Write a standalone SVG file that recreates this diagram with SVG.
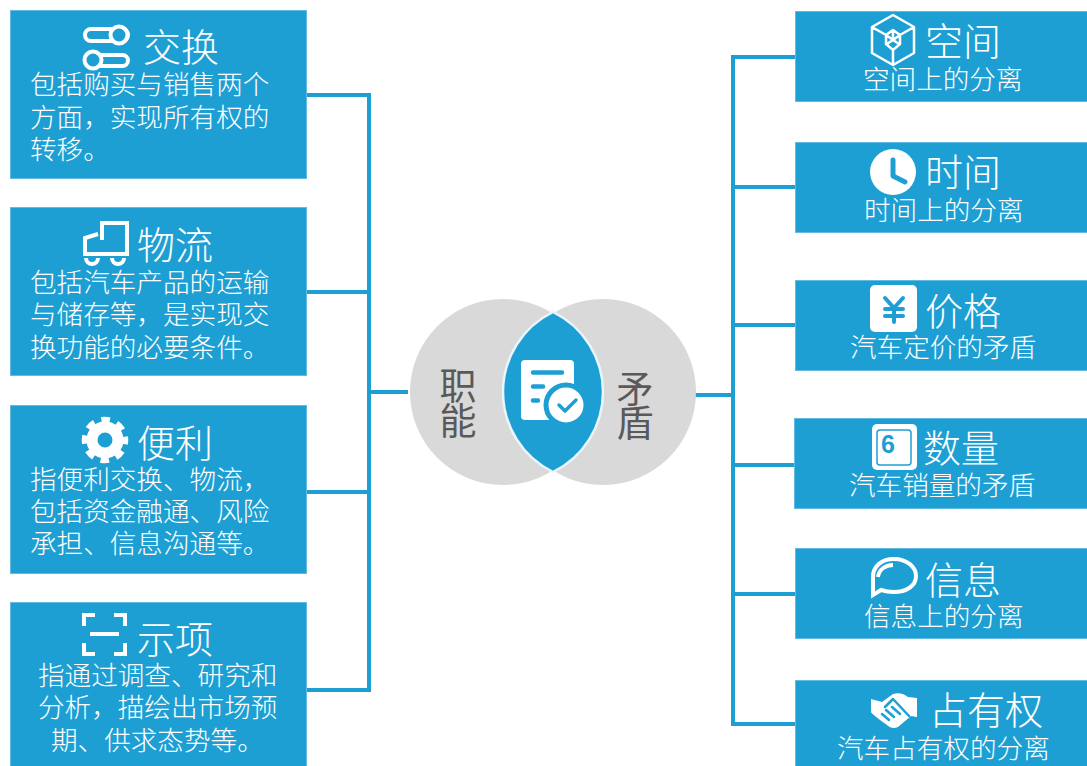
<svg xmlns="http://www.w3.org/2000/svg" width="1087" height="766" viewBox="0 0 1087 766">
<style>
text{font-family:"Noto Sans CJK SC","Liberation Sans",sans-serif;font-weight:300;fill:#fff}
.box{fill:#1e9fd4;stroke:#62bbe2;stroke-width:1}
.t{font-size:38px}
.b{font-size:26.6px}
.c{font-size:37px;fill:#595959;text-anchor:middle;font-weight:400}
.ln{fill:none;stroke:#1e9fd4;stroke-width:4}
.o{fill:none;stroke:#fff;stroke-width:4}
.o2{fill:none;stroke:#fff;stroke-width:2.5;stroke-linejoin:round}
.w{fill:#fff}
.bl{fill:none;stroke:#1e9fd4;stroke-linecap:round;stroke-linejoin:round}
</style>
<g id="connectors">
<path class="ln" d="M307 95H369V690M307 292H369M307 492H369M307 690H371M369 392H408"/>
<path class="ln" d="M795 57H733V726M795 187H733M795 325H733M795 465H733M795 594H733M795 724H731M695 395H733"/>
</g>
<g id="center">
<circle cx="503" cy="392" r="93" fill="#d9d9d9"/>
<circle cx="603" cy="392" r="93" fill="#d9d9d9"/>
<path d="M553 312A89 89 0 0 1 553 472A89 89 0 0 1 553 312Z" fill="#1e9fd4" stroke="#eaf6fb" stroke-width="2.5"/>
<rect x="521" y="360" width="53" height="60" rx="4" class="w"/>
<circle cx="566" cy="405" r="20" fill="#fff" stroke="#1e9fd4" stroke-width="5"/>
<path class="bl" stroke-width="4.5" d="M533 372.500H562M533 386.500H543M533 400.500H538"/>
<path class="bl" stroke-width="3.500" d="M559 405L565 411L576 400"/>
<text class="c" x="458" y="400">职</text>
<text class="c" x="458" y="435">能</text>
<text class="c" x="635" y="403">矛</text>
<text class="c" x="635" y="437">盾</text>
</g>
<g id="n-exchange">
<rect class="box" x="10.500" y="10.500" width="296" height="168"/>
<rect class="o" x="85" y="29" width="43" height="12" rx="6"/>
<circle cx="119" cy="35" r="8.500" fill="#1e9fd4" stroke="#fff" stroke-width="4"/>
<rect class="o" x="85" y="55" width="43" height="11" rx="5.500"/>
<circle cx="93" cy="60" r="8.500" fill="#1e9fd4" stroke="#fff" stroke-width="4"/>
<text class="t" x="143" y="61">交换</text>
<text class="b" x="30" y="94">包括购买与销售两个</text>
<text class="b" x="30" y="127">方面，实现所有权的</text>
<text class="b" x="30" y="159">转移。</text>
</g>
<g id="n-logistics">
<rect class="box" x="10.500" y="207.500" width="296" height="168"/>
<path class="o" d="M102 240V223H127V254H85V238L98 234"/>
<path class="o" d="M86 258A6 6 0 0 0 98 258M112 258A6 6 0 0 0 124 258" stroke-width="3"/>
<text class="t" x="137" y="259">物流</text>
<text class="b" x="30" y="292">包括汽车产品的运输</text>
<text class="b" x="30" y="324">与储存等，是实现交</text>
<text class="b" x="30" y="357">换功能的必要条件。</text>
</g>
<g id="n-convenience">
<rect class="box" x="10.500" y="405.500" width="296" height="168"/>
<circle cx="105" cy="440" r="13" fill="none" stroke="#fff" stroke-width="11"/>
<circle cx="105" cy="440" r="20" fill="none" stroke="#fff" stroke-width="6.500" stroke-dasharray="8.500 7.210" stroke-dashoffset="4.250"/>
<text class="t" x="137" y="457">便利</text>
<text class="b" x="30" y="489">指便利交换、物流，</text>
<text class="b" x="30" y="521">包括资金融通、风险</text>
<text class="b" x="30" y="553">承担、信息沟通等。</text>
</g>
<g id="n-signal">
<rect class="box" x="10.500" y="602.500" width="296" height="164"/>
<path class="o" stroke-width="4.500" d="M95 615H84V626M114 615H125V626M84 643V654H95M125 643V654H114M90 634H119"/>
<text class="t" x="137" y="653">示项</text>
<text class="b" x="38" y="685">指通过调查、研究和</text>
<text class="b" x="38" y="717">分析，描绘出市场预</text>
<text class="b" x="51" y="750">期、供求态势等。</text>
</g>
<g id="n-space">
<rect class="box" x="795.500" y="11.500" width="292" height="90"/>
<path class="o2" d="M893 15L914 27V53L893 65L872 53V27ZM872 27L886 35M914 27L900 35M893 65V50M886 35L893 30L900 35V44L893 50L886 44ZM886 35L893 40L900 35M893 40V31M893 40L887 44M893 40L899 44"/>
<text class="t" x="925" y="55">空间</text>
<text class="b" x="863" y="89">空间上的分离</text>
</g>
<g id="n-time">
<rect class="box" x="795.500" y="142.500" width="292" height="90"/>
<circle cx="893" cy="172" r="23" class="w"/>
<path class="bl" stroke-width="5" d="M893 160V176L905 182"/>
<text class="t" x="925" y="186">时间</text>
<text class="b" x="864" y="220">时间上的分离</text>
</g>
<g id="n-price">
<rect class="box" x="795.500" y="280.500" width="292" height="90"/>
<rect x="870" y="285" width="47" height="47" rx="5" class="w"/>
<path class="bl" stroke-width="4" d="M885 298L894 308L903 298M885 309H903M885 316H903M894 308V322"/>
<text class="t" x="925" y="325">价格</text>
<text class="b" x="850" y="357">汽车定价的矛盾</text>
</g>
<g id="n-quantity">
<rect class="box" x="794.500" y="418.500" width="293" height="90"/>
<rect x="872" y="424" width="45" height="46" rx="5" class="w"/>
<rect x="877" y="430" width="34" height="35" rx="3" fill="none" stroke="#1e9fd4" stroke-width="1.500"/>
<text x="881" y="453" style="font-family:'Liberation Sans',sans-serif;font-weight:700;font-size:25px;fill:#1e9fd4">6</text>
<text class="t" x="923" y="462">数量</text>
<text class="b" x="849" y="495">汽车销量的矛盾</text>
</g>
<g id="n-info">
<rect class="box" x="795.500" y="548.500" width="292" height="90"/>
<path class="o" stroke-width="3" d="M873 595V577C873 566 882 559 894 559C907 559 916 567 916 576C916 586 906 592 894 592C888 592 884 591 881 590Z"/>
<path class="o" stroke-width="1" d="M878 577C879 569 886 565 893 565"/>
<text class="t" x="925" y="594">信息</text>
<text class="b" x="864" y="626">信息上的分离</text>
</g>
<g id="n-possession">
<rect class="box" x="795.500" y="680.500" width="292" height="86"/>
<path class="w" d="M871 699L882 702L893 694C899 692 904 694 908 697L917 698V717L911 716L898 727C894 729 890 728 887 725L880 720C875 716 872 714 871 712Z"/>
<path class="bl" stroke-width="2.500" d="M885 707L893 699L909 716M882 714L889 720M886 710L894 717M892 707L900 714"/>
<text class="t" x="929" y="724">占有权</text>
<text class="b" x="837" y="758">汽车占有权的分离</text>
</g>
</svg>
